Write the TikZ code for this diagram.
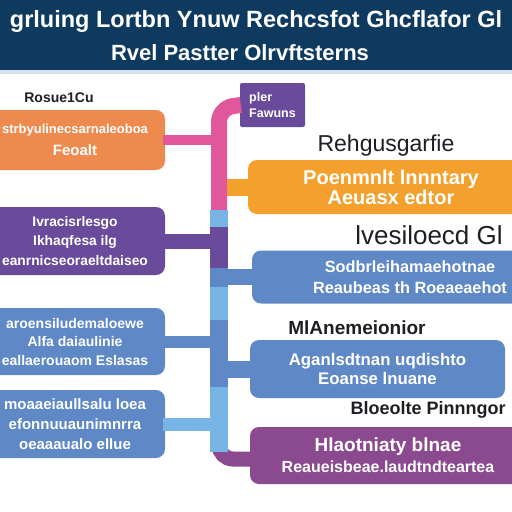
\documentclass[tikz,border=0pt]{standalone}
\usepackage{fontspec}
\setmainfont{Liberation Sans}
\usetikzlibrary{calc}
\definecolor{cNavy}{HTML}{0E3A5F}
\definecolor{cPale}{HTML}{D4E3EF}
\definecolor{cOrange}{HTML}{EF8A4E}
\definecolor{cAmber}{HTML}{F4A02C}
\definecolor{cViolet}{HTML}{6A4B9B}
\definecolor{cPlum}{HTML}{8B4A8F}
\definecolor{cBlue}{HTML}{5F88C6}
\definecolor{cSky}{HTML}{76B5E5}
\definecolor{cPink}{HTML}{E0579B}
\definecolor{cInk}{HTML}{1E1E24}
\newcommand{\fs}[1]{\fontsize{#1}{#1}\selectfont}
\tikzset{
  box/.style={rectangle, rounded corners=9pt, inner sep=0pt, text=white,
    font=\bfseries, align=center},
  link/.style={line cap=butt, line width=#1},
  hd/.style={text=cInk, inner sep=0pt},
  ttl/.style={text=white, inner sep=0pt, font=\bfseries},
}
\begin{document}
\begin{tikzpicture}[x=1pt,y=-1pt]
\useasboundingbox (0,0) rectangle (512,512);
\clip (0,0) rectangle (512,512);
% header band
\fill[cNavy] (0,0) rectangle (512,70);
\fill[cPale] (0,70) rectangle (512,74);
\node[ttl, font=\bfseries\fs{23.5}] (ttlA) at (256,21) {grluing Lortbn Ynuw Rechcsfot Ghcflafor Gl};
\node[ttl, font=\bfseries\fs{22}] (ttlB) at (240,53) {Rvel Pastter Olrvftsterns};

% trunk points
\coordinate (tTop) at (219,108);
\coordinate (tBot) at (219,459);

% left column
\node[hd, font=\bfseries\fs{14}] (hdL) at (59,98) {Rosue1Cu};
\node[box, fill=cOrange, minimum width=180, minimum height=60] (orangeL) at (75,140)
  {{\fs{13}strbyulinecsarnaleoboa}\\[8pt]{\fs{15}Feoalt}};
\node[box, fill=cViolet, minimum width=180, minimum height=68, font=\bfseries\fs{13.8}] (purpleL) at (75,241)
  {Ivracisrlesgo\\[5.5pt]Ikhaqfesa ilg\\[5.5pt]eanrnicseoraeltdaiseo};
\node[box, fill=cBlue, minimum width=180, minimum height=67, font=\bfseries\fs{14}] (blueLa) at (75,341.5)
  {aroensiludemaloewe\\[4.5pt]Alfa daiaulinie\\[4.5pt]eallaerouaom Eslasas};
\node[box, fill=cBlue, minimum width=180, minimum height=68, font=\bfseries\fs{15}] (blueLb) at (75,424)
  {moaaeiaullsalu loea\\[5pt]efonnuuaunimnrra\\[5pt]oeaaaualo ellue};

% right column
\node[box, fill=cViolet, rounded corners=2pt, minimum width=65, minimum height=44,
  align=left, font=\bfseries\fs{12.5}] (tag) at (272.5,105) {pler\\[4pt]Fawuns};
\node[hd, font=\fs{23}] (hdRa) at (386,146) {Rehgusgarfie};
\node[box, fill=cAmber, minimum width=286, minimum height=54, font=\bfseries\fs{20}] (orangeR) at (391,187)
  {Poenmnlt lnnntary\\[0pt]Aeuasx edtor};
\node[hd, font=\fs{26}] (hdRb) at (429,235) {lvesiloecd Gl};
\node[box, fill=cBlue, minimum width=316, minimum height=53, font=\bfseries\fs{16.3}] (blueRa) at (410,277)
  {Sodbrleihamaehotnae\\[4.5pt]Reaubeas th Roeaeaehot};
\node[hd, font=\bfseries\fs{19}] (hdRc) at (357,328) {MlAnemeionior};
\node[box, fill=cBlue, minimum width=255, minimum height=58, font=\bfseries\fs{16.8}] (blueRb) at (377.5,369)
  {Aganlsdtnan uqdishto\\[3pt]Eoanse lnuane};
\node[hd, font=\bfseries\fs{18}] (hdRd) at (428,410) {Bloeolte Pinnngor};
\node[box, fill=cPlum, minimum width=276, minimum height=57, font=\bfseries\fs{16}] (purpleR) at (388,455.5)
  {{\fs{19}Hlaotniaty blnae}\\[5pt]Reaueisbeae.laudtndteartea};

% branches
\draw[link=10, cPink] ([xshift=-2]orangeL.east) -- (orangeL.east -| tTop);
\draw[link=15, cViolet] ([xshift=-2]purpleL.east) -- (purpleL.east -| tTop);
\draw[link=12, cBlue] ([xshift=-2]blueLa.east) -- (blueLa.east -| tTop);
\draw[link=13, cSky] ([xshift=-2]blueLb.east) -- (blueLb.east -| tTop);
\draw[link=17, cAmber] (orangeR.west -| tTop) -- ([xshift=2]orangeR.west);
\draw[link=16, cBlue] (blueRa.west -| tTop) -- ([xshift=2]blueRa.west);
\draw[link=17, cBlue] (blueRb.west -| tTop) -- ([xshift=2]blueRb.west);

% trunk, top to bottom
\draw[link=16, cPink, rounded corners=14] (219,211) -- (tTop) -- ([xshift=1]tag.west);
\draw[link=18, cSky] (219,210) -- (219,227);
\draw[link=18, cViolet] (219,227) -- (219,268);
\draw[link=18, cBlue] (219,268) -- (219,287);
\draw[link=18, cSky] (219,287) -- (219,320);
\draw[link=18, cBlue] (219,320) -- (219,387);
\draw[link=15, cPlum, rounded corners=14] (219,440) -- (tBot) -- ([xshift=2]tBot -| purpleR.west);
\draw[link=18, cSky] (219,387) -- (219,452);
\end{tikzpicture}
\end{document}
